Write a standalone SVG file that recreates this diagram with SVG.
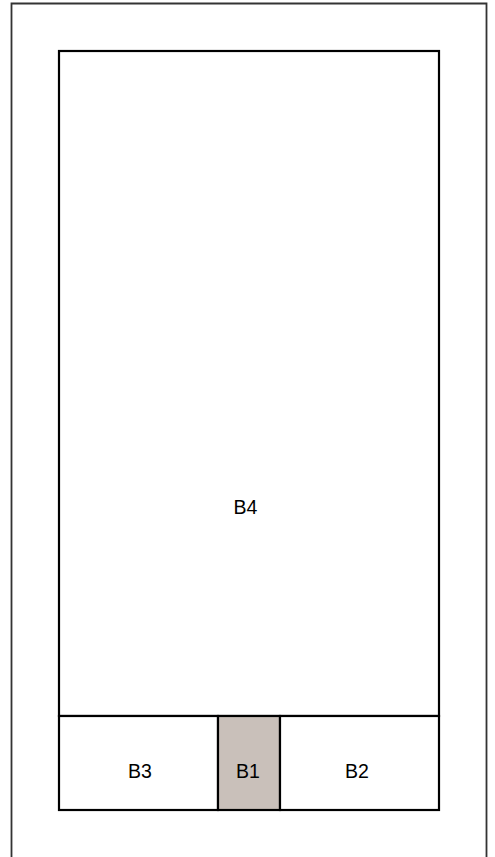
<svg xmlns="http://www.w3.org/2000/svg" width="495" height="857" viewBox="0 0 495 857">
<style>
.cell{fill:#ffffff;stroke:#000;stroke-width:2.2}
.lbl{font-family:"Liberation Sans",Arial,sans-serif;font-size:19.5px;fill:#000;text-anchor:middle}
</style>
<rect x="0" y="0" width="495" height="857" fill="#fff"/>
<g id="frame">
<path d="M11.5,857 V3.5 H486.5 V857" fill="none" stroke="#333" stroke-width="1.8"/>
</g>
<g id="B4">
<rect class="cell" x="59" y="51" width="380" height="665"/>
<text class="lbl" x="245.5" y="514">B4</text>
</g>
<g id="B3">
<rect class="cell" x="59" y="716" width="159" height="94"/>
<text class="lbl" x="140" y="778">B3</text>
</g>
<g id="B1">
<rect class="cell" x="218" y="716" width="62" height="94" style="fill:#c9c0ba"/>
<text class="lbl" x="248" y="778">B1</text>
</g>
<g id="B2">
<rect class="cell" x="280" y="716" width="159" height="94"/>
<text class="lbl" x="357" y="778">B2</text>
</g>
<g id="connectors"></g>
</svg>
